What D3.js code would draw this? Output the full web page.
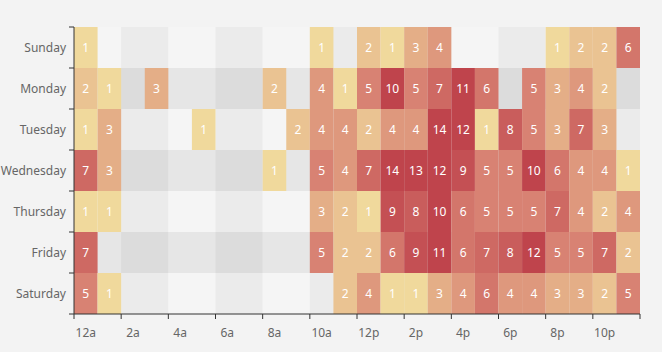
<!DOCTYPE html>
<html>
<head>
<meta charset="utf-8">
<script src="https://cdn.jsdelivr.net/npm/d3@7"></script>
<style>
  body { margin: 0; background: #f3f3f3; }
  svg { display: block; font-family: "Noto Sans", sans-serif; }
</style>
</head>
<body>
<svg width="662" height="352"></svg>
<script>
// hours and days
var hours = ["12a","1a","2a","3a","4a","5a","6a","7a","8a","9a","10a","11a",
  "12p","1p","2p","3p","4p","5p","6p","7p","8p","9p","10p","11p"];
var days = ["Saturday","Friday","Thursday","Wednesday","Tuesday","Monday","Sunday"];

// values per day, 12a .. 11p
var saturday  = [5,1,0,0,0,0,0,0,0,0,0,2,4,1,1,3,4,6,4,4,3,3,2,5];
var friday    = [7,0,0,0,0,0,0,0,0,0,5,2,2,6,9,11,6,7,8,12,5,5,7,2];
var thursday  = [1,1,0,0,0,0,0,0,0,0,3,2,1,9,8,10,6,5,5,5,7,4,2,4];
var wednesday = [7,3,0,0,0,0,0,0,1,0,5,4,7,14,13,12,9,5,5,10,6,4,4,1];
var tuesday   = [1,3,0,0,0,1,0,0,0,2,4,4,2,4,4,14,12,1,8,5,3,7,3,0];
var monday    = [2,1,0,3,0,0,0,0,2,0,4,1,5,10,5,7,11,6,0,5,3,4,2,0];
var sunday    = [1,0,0,0,0,0,0,0,0,0,1,0,2,1,3,4,0,0,0,0,1,2,2,6];
var rows = [saturday, friday, thursday, wednesday, tuesday, monday, sunday];

var svg = d3.select("svg"),
  gLeft = 74, gRight = 640, gTop = 27, gBottom = 314;

var x = d3.scaleBand().domain(hours).range([gLeft, gRight]);
var y = d3.scaleBand().domain(days).range([gBottom, gTop]);

// visual map 0..10
var color = d3.scaleLinear()
  .domain([0, 5, 10])
  .range(["#f6efa6", "#d88273", "#bf444c"])
  .clamp(true);

// split areas (every other label on x, every row on y)
var bandCols = ["rgba(250,250,250,0.3)", "rgba(200,200,200,0.3)"];
svg.append("g")
  .selectAll("rect")
  .data(d3.range(12))
  .enter().append("rect")
    .attr("x", function(i) { return x(hours[i * 2]); })
    .attr("y", gTop)
    .attr("width", x.bandwidth() * 2)
    .attr("height", gBottom - gTop)
    .attr("fill", function(i) { return bandCols[i % 2]; });
svg.append("g")
  .selectAll("rect")
  .data(days)
  .enter().append("rect")
    .attr("x", gLeft)
    .attr("y", function(d) { return y(d); })
    .attr("width", gRight - gLeft)
    .attr("height", y.bandwidth())
    .attr("fill", function(d, i) { return bandCols[i % 2]; });

// cells
var cells = [];
rows.forEach(function(r, di) {
  r.forEach(function(v, hi) {
    if (v > 0) cells.push({ day: days[di], hour: hours[hi], value: v });
  });
});

svg.append("g")
  .selectAll("rect")
  .data(cells)
  .enter().append("rect")
    .attr("x", function(d) { return x(d.hour); })
    .attr("y", function(d) { return y(d.day); })
    .attr("width", x.bandwidth())
    .attr("height", y.bandwidth())
    .attr("fill", function(d) { return color(d.value); });

svg.append("g")
  .selectAll("text")
  .data(cells)
  .enter().append("text")
    .attr("x", function(d) { return x(d.hour) + x.bandwidth() / 2; })
    .attr("y", function(d) { return y(d.day) + y.bandwidth() / 2; })
    .attr("dy", "0.36em")
    .attr("text-anchor", "middle")
    .attr("fill", "#fff")
    .style("font-size", "12px")
    .text(function(d) { return d.value; });

// x axis: label every other hour, ticks on band edges
var xAxis = svg.append("g").attr("transform", "translate(0," + gBottom + ")");
xAxis.append("line")
  .attr("x1", gLeft).attr("x2", gRight)
  .attr("stroke", "#333");
var xTicks = d3.range(0, 25, 2);
xAxis.selectAll(".tk")
  .data(xTicks)
  .enter().append("line")
    .attr("x1", function(i) { return i < 24 ? x(hours[i]) : gRight; })
    .attr("x2", function(i) { return i < 24 ? x(hours[i]) : gRight; })
    .attr("y2", 5)
    .attr("stroke", "#333");
xAxis.selectAll("text")
  .data(hours.filter(function(h, i) { return i % 2 == 0; }))
  .enter().append("text")
    .attr("x", function(h) { return x(h) + x.bandwidth() / 2; })
    .attr("y", 14)
    .attr("dy", "0.71em")
    .attr("text-anchor", "middle")
    .attr("fill", "#666")
    .style("font-size", "12px")
    .text(function(h) { return h; });

// y axis
var yAxis = svg.append("g").attr("transform", "translate(" + gLeft + ",0)");
yAxis.append("line")
  .attr("y1", gTop).attr("y2", gBottom)
  .attr("stroke", "#333");
yAxis.selectAll(".tk")
  .data(days.concat(["end"]))
  .enter().append("line")
    .attr("y1", function(d) { return d == "end" ? gTop : y(d) + y.bandwidth(); })
    .attr("y2", function(d) { return d == "end" ? gTop : y(d) + y.bandwidth(); })
    .attr("x2", -5)
    .attr("stroke", "#333");
yAxis.selectAll("text")
  .data(days)
  .enter().append("text")
    .attr("x", -8)
    .attr("y", function(d) { return y(d) + y.bandwidth() / 2; })
    .attr("dy", "0.36em")
    .attr("text-anchor", "end")
    .attr("fill", "#666")
    .style("font-size", "12px")
    .text(function(d) { return d; });
</script>
</body>
</html>
